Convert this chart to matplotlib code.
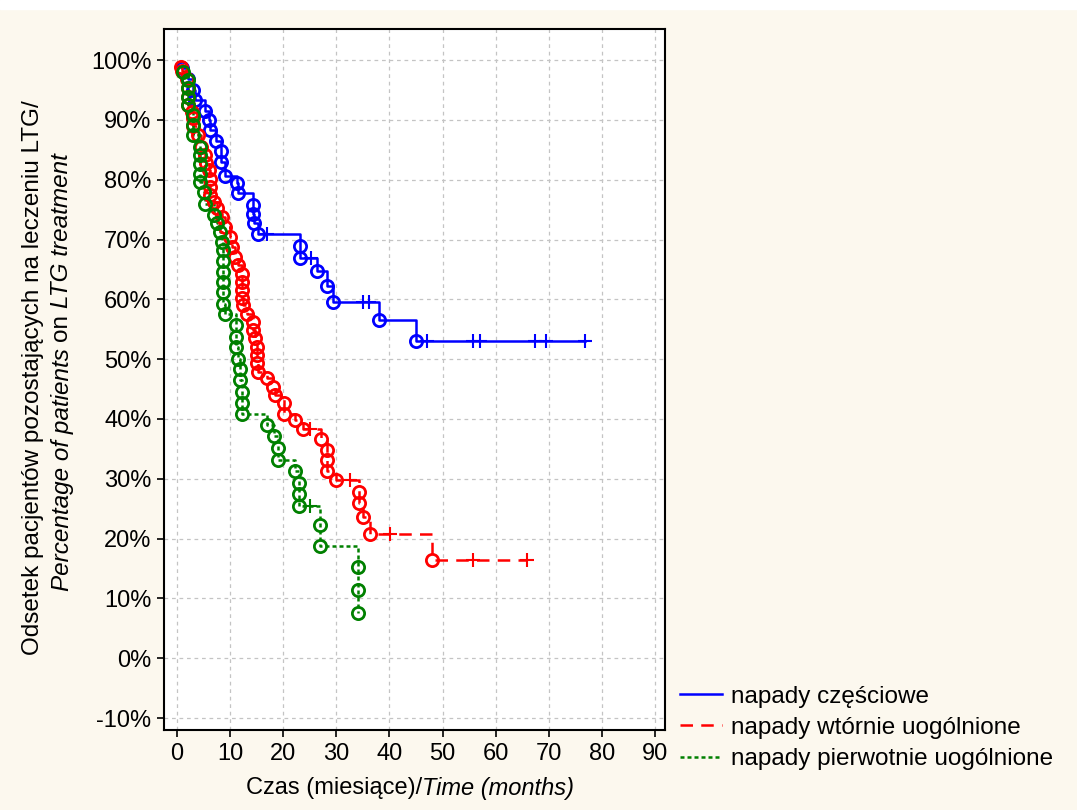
import matplotlib
matplotlib.use("Agg")
import matplotlib.pyplot as plt
import numpy as np
from matplotlib.lines import Line2D
from matplotlib.patches import Rectangle

plt.rcParams['font.family'] = ['Liberation Sans', 'DejaVu Sans']

# napady czesciowe (czas zdarzenia, odsetek po zdarzeniu)
blue_t = [1.0, 2.0, 3.0, 3.3, 5.2, 6.0, 6.2, 7.4, 8.2, 8.3, 9.1, 11.3, 11.4, 14.4, 14.4,
          14.5, 15.3, 23.1, 23.1, 26.3, 28.3, 29.3, 38.1, 45.0]
blue_s = [98.6, 96.8, 95.0, 93.3, 91.5, 90.0, 88.3, 86.4, 84.8, 83.0, 80.6, 79.4, 77.8, 75.8, 74.3,
          72.8, 70.9, 69.0, 66.9, 64.8, 62.2, 59.6, 56.5, 53.0]
blue_cens = [17.0, 25.3, 35.0, 36.1, 47.0, 55.8, 57.0, 67.4, 69.4, 76.9]

# napady wtornie uogolnione
red_t = [0.8, 1.0, 1.8, 2.1, 2.1, 2.1, 2.8, 3.0, 3.0, 4.0, 4.6, 5.2, 5.4, 6.0, 6.2, 6.2, 6.2,
         6.9, 7.5, 8.4, 9.0, 9.9, 10.3, 10.9, 11.5, 12.2, 12.2, 12.2, 12.2, 12.5, 13.1, 14.4,
         14.4, 14.7, 15.0, 15.0, 15.0, 15.2, 16.9, 18.1, 18.5, 20.2, 20.2, 22.2, 23.8, 27.1,
         28.2, 28.2, 28.2, 30.0, 34.2, 34.2, 35.0, 36.3, 48.1]
red_s = [98.9, 98.2, 96.8, 95.3, 93.9, 92.5, 91.4, 90.3, 88.9, 87.5, 85.5, 84.1, 82.8, 81.6,
         80.2, 78.8, 77.4, 76.2, 75.2, 73.8, 72.1, 70.5, 68.8, 67.1, 65.7, 64.3, 62.9, 61.5,
         60.3, 59.0, 57.6, 56.2, 54.8, 53.5, 52.1, 50.7, 49.3, 47.9, 46.8, 45.4, 44.0, 42.6,
         40.9, 39.8, 38.4, 36.7, 34.8, 33.1, 31.3, 29.8, 27.8, 25.9, 23.6, 20.7, 16.4]
red_cens = [25.0, 32.6, 40.1, 55.8, 66.0]

# napady pierwotnie uogolnione
green_t = [1.1, 2.1, 2.1, 2.1, 2.1, 3.0, 3.0, 3.0, 4.3, 4.3, 4.3, 4.3, 4.3, 5.0, 5.3, 6.9,
           7.5, 8.1, 8.4, 8.7, 8.7, 8.7, 8.7, 8.7, 8.7, 9.0, 11.2, 11.2, 11.2, 11.5, 11.9,
           11.9, 12.2, 12.2, 12.2, 16.9, 18.3, 19.1, 19.1, 22.2, 23.0, 23.0, 23.0, 26.9,
           26.9, 34.0, 34.0, 34.0]
green_s = [98.0, 96.7, 95.3, 93.9, 92.5, 90.8, 89.1, 87.5, 85.5, 84.1, 82.7, 81.0, 79.7,
           78.0, 76.0, 74.1, 72.7, 71.3, 69.6, 68.2, 66.4, 64.6, 62.9, 61.3, 59.3, 57.6,
           55.7, 53.7, 52.0, 50.1, 48.4, 46.5, 44.5, 42.6, 40.8, 39.0, 37.1, 35.2, 33.1,
           31.3, 29.3, 27.4, 25.4, 22.2, 18.8, 15.3, 11.4, 7.6]
green_cens = [25.0]

labels = ['napady częściowe', 'napady wtórnie uogólnione', 'napady pierwotnie uogólnione']
colors = ['#0000ff', '#ff0000', '#008000']
styles = ['-', (0, (5, 3.3)), (0, (1.6, 1.2))]

bg = '#fcf8ee'
fig = plt.figure(figsize=(10.77, 8.1), dpi=100, facecolor=bg)
fig.add_artist(Rectangle((0, 1 - 9 / 810), 1, 9 / 810, transform=fig.transFigure,
                         color='white', zorder=-1))
ax = fig.add_axes([164 / 1077, 1 - 730 / 810, 501 / 1077, 701 / 810])
ax.set_facecolor('white')


def draw(t, s, cens, color, ls):
    t = np.asarray(t)
    s = np.asarray(s)
    cens = np.asarray(cens)
    end = max(t.max(), cens.max() if len(cens) else 0)
    xs = np.append(t, end)
    ys = np.append(s, s[-1])
    ax.plot(xs, ys, drawstyle='steps-post', color=color, linestyle=ls, lw=1.8, zorder=3)
    ax.plot(t, s, 'o', mfc='none', mec=color, ms=8.8, mew=2.0, zorder=4)
    idx = np.searchsorted(t, cens, side='right') - 1
    ax.plot(cens, s[idx], '+', color=color, ms=10, mew=1.5, zorder=4)


draw(blue_t, blue_s, blue_cens, colors[0], styles[0])
draw(red_t, red_s, red_cens, colors[1], styles[1])
draw(green_t, green_s, green_cens, colors[2], styles[2])

ax.set_xlim(-2.45, 91.9)
ax.set_ylim(-12.0, 105.2)
ax.set_xticks(np.arange(0, 91, 10))
ax.set_yticks(np.arange(-10, 101, 10))
ax.set_yticklabels([f'{v}%' for v in range(-10, 101, 10)])
ax.tick_params(labelsize=17, length=5, width=1.2, pad=4)
ax.grid(True, color='#c4c4c4', linestyle=(0, (3, 3)), lw=0.9)
ax.set_axisbelow(True)
for sp in ax.spines.values():
    sp.set_linewidth(1.5)

# opis osi X: czesc zwykla + czesc kursywa, wysrodkowane razem
fig.canvas.draw()
r = fig.canvas.get_renderer()
t1 = fig.text(0, 1 - 788 / 810, 'Czas (miesiące)/', ha='left', va='center', fontsize=17)
t2 = fig.text(0, 1 - 788 / 810, 'Time (months)', ha='left', va='center', fontsize=17,
              style='italic')
w1 = t1.get_window_extent(r).width
w2 = t2.get_window_extent(r).width
x0 = 410 - (w1 + w2) / 2
t1.set_x(x0 / 1077)
t2.set_x((x0 + w1) / 1077)

fig.text(33 / 1077, 1 - 378 / 810, 'Odsetek pacjentów pozostających na leczeniu LTG/',
         rotation=90, ha='center', va='center', fontsize=17.5)
# druga linia: kursywa / zwykly / kursywa, skladana od dolu
parts = [('Percentage of patients ', 'italic'), ('on ', 'normal'), ('LTG treatment', 'italic')]
pieces = []
for txt, st in parts:
    p = fig.text(62 / 1077, 0, txt, rotation=90, ha='center', va='bottom', fontsize=17.5,
                 style=st)
    pieces.append(p)
hs = [p.get_window_extent(r).height for p in pieces]
y0 = (810 - 372) - sum(hs) / 2
for p, h in zip(pieces, hs):
    p.set_y(y0 / 810)
    y0 += h

handles = [Line2D([], [], color=c, linestyle=l, lw=1.8) for c, l in zip(colors, styles)]
fig.legend(handles, labels, loc='upper left', bbox_to_anchor=(670 / 1077, 1 - 676 / 810),
           frameon=False, fontsize=17.5, handlelength=1.75, handletextpad=0.35,
           labelspacing=0.38, borderaxespad=0)

fig.savefig('out.png', dpi=100, facecolor=bg)
